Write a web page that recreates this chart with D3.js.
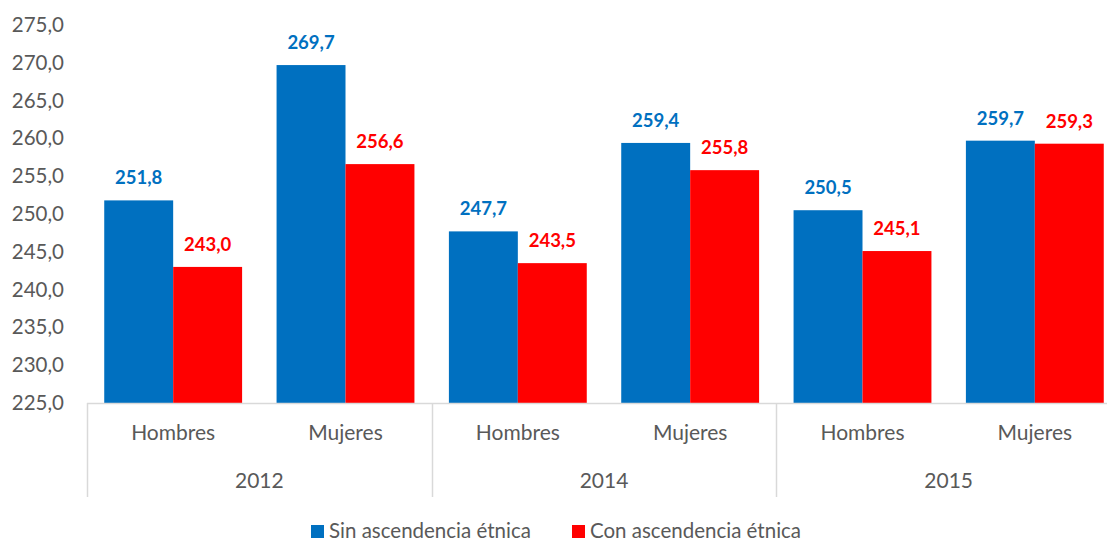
<!DOCTYPE html>
<html>
<head>
<meta charset="utf-8">
<script src="https://cdn.jsdelivr.net/npm/d3@7"></script>
<style>
  body { margin: 0; background: #fff; }
  text { font-family: Lato, "Open Sans", sans-serif; }
</style>
</head>
<body>
<div id="chart"></div>
<script>
// data
var years = ["2012", "2014", "2015"];
var sexes = ["Hombres", "Mujeres"];
var series = ["Sin ascendencia étnica", "Con ascendencia étnica"];
var sinValues = [251.8, 269.7, 247.7, 259.4, 250.5, 259.7];
var conValues = [243.0, 256.6, 243.5, 255.8, 245.1, 259.3];
var yTicks = [225, 230, 235, 240, 245, 250, 255, 260, 265, 270, 275];

var colors = ["#0070C0", "#FF0000"];
var textColor = "#595959";
var axisColor = "#D9D9D9";

var width = 1107, height = 542;
var margin = {left: 87, right: 1121, top: 25, bottom: 403};

var locale = d3.formatLocale({decimal: ",", thousands: ".", grouping: [3], currency: ["", ""]});
var fmt = locale.format(".1f");

// one row per bar group
var rows = [];
years.forEach(function (yr, i) {
    sexes.forEach(function (s, j) {
        var k = i * sexes.length + j;
        rows.push({key: k, year: yr, sex: s, values: [sinValues[k], conValues[k]]});
    });
});

var svg = d3.select("#chart")
    .append("svg")
    .attr("width", width)
    .attr("height", height);

var x = d3.scaleBand()
    .domain(rows.map(function (d) { return d.key; }))
    .range([margin.left, margin.right])
    .paddingInner(0.2)
    .paddingOuter(0.1);

var xs = d3.scaleBand()
    .domain([0, 1])
    .range([0, x.bandwidth()]);

var y = d3.scaleLinear()
    .domain([225, 275])
    .range([margin.bottom, margin.top]);

////////// y axis //////////
var yAxis = svg.append("g")
    .attr("transform", "translate(" + margin.left + ",0)")
    .call(d3.axisLeft(y).tickValues(yTicks).tickSize(0).tickPadding(23).tickFormat(fmt));
yAxis.select(".domain").remove();
yAxis.selectAll("text")
    .attr("fill", textColor)
    .style("font-size", "20.5px");

////////// bars //////////
var groups = svg.selectAll(".grp")
    .data(rows)
    .enter().append("g")
    .attr("class", "grp")
    .attr("transform", function (d) { return "translate(" + x(d.key) + ",0)"; });

groups.selectAll("rect")
    .data(function (d) { return d.values; })
    .enter().append("rect")
    .attr("x", function (d, i) { return xs(i); })
    .attr("width", xs.bandwidth())
    .attr("y", function (d) { return y(d); })
    .attr("height", function (d) { return y(225) - y(d); })
    .attr("fill", function (d, i) { return colors[i]; });

groups.selectAll(".lbl")
    .data(function (d) { return d.values; })
    .enter().append("text")
    .attr("class", "lbl")
    .attr("x", function (d, i) { return xs(i) + xs.bandwidth() / 2; })
    .attr("y", function (d) { return y(d) - 16; })
    .attr("text-anchor", "middle")
    .attr("fill", function (d, i) { return colors[i]; })
    .style("font-size", "18.5px")
    .style("font-weight", "bold")
    .text(function (d) { return fmt(d); });

////////// category axis //////////
var axisG = svg.append("g");
axisG.append("line")
    .attr("x1", margin.left).attr("x2", margin.right)
    .attr("y1", margin.bottom + 0.5).attr("y2", margin.bottom + 0.5)
    .attr("stroke", axisColor).attr("stroke-width", 1.5);

var groupW = x.step() * sexes.length;
var seps = d3.range(years.length + 1).map(function (i) { return margin.left + i * groupW; });
axisG.selectAll(".sep")
    .data(seps)
    .enter().append("line")
    .attr("class", "sep")
    .attr("x1", function (d) { return Math.round(d) + 0.5; })
    .attr("x2", function (d) { return Math.round(d) + 0.5; })
    .attr("y1", margin.bottom)
    .attr("y2", 497)
    .attr("stroke", axisColor).attr("stroke-width", 1.5);

axisG.selectAll(".sex")
    .data(rows)
    .enter().append("text")
    .attr("class", "sex")
    .attr("x", function (d) { return x(d.key) + x.bandwidth() / 2; })
    .attr("y", 440)
    .attr("text-anchor", "middle")
    .attr("fill", textColor)
    .style("font-size", "21px")
    .text(function (d) { return d.sex; });

axisG.selectAll(".year")
    .data(years)
    .enter().append("text")
    .attr("class", "year")
    .attr("x", function (d, i) { return margin.left + (i + 0.5) * groupW; })
    .attr("y", 488)
    .attr("text-anchor", "middle")
    .attr("fill", textColor)
    .style("font-size", "21px")
    .text(function (d) { return d; });

////////// legend //////////
var legendX = [311, 572];
var legend = svg.selectAll(".leg")
    .data(series)
    .enter().append("g")
    .attr("class", "leg")
    .attr("transform", function (d, i) { return "translate(" + legendX[i] + ",525)"; });

legend.append("rect")
    .attr("width", 13)
    .attr("height", 13)
    .attr("fill", function (d, i) { return colors[i]; });

legend.append("text")
    .attr("x", 18)
    .attr("y", 13)
    .attr("fill", textColor)
    .style("font-size", "20.5px")
    .text(function (d) { return d; });
</script>
</body>
</html>
